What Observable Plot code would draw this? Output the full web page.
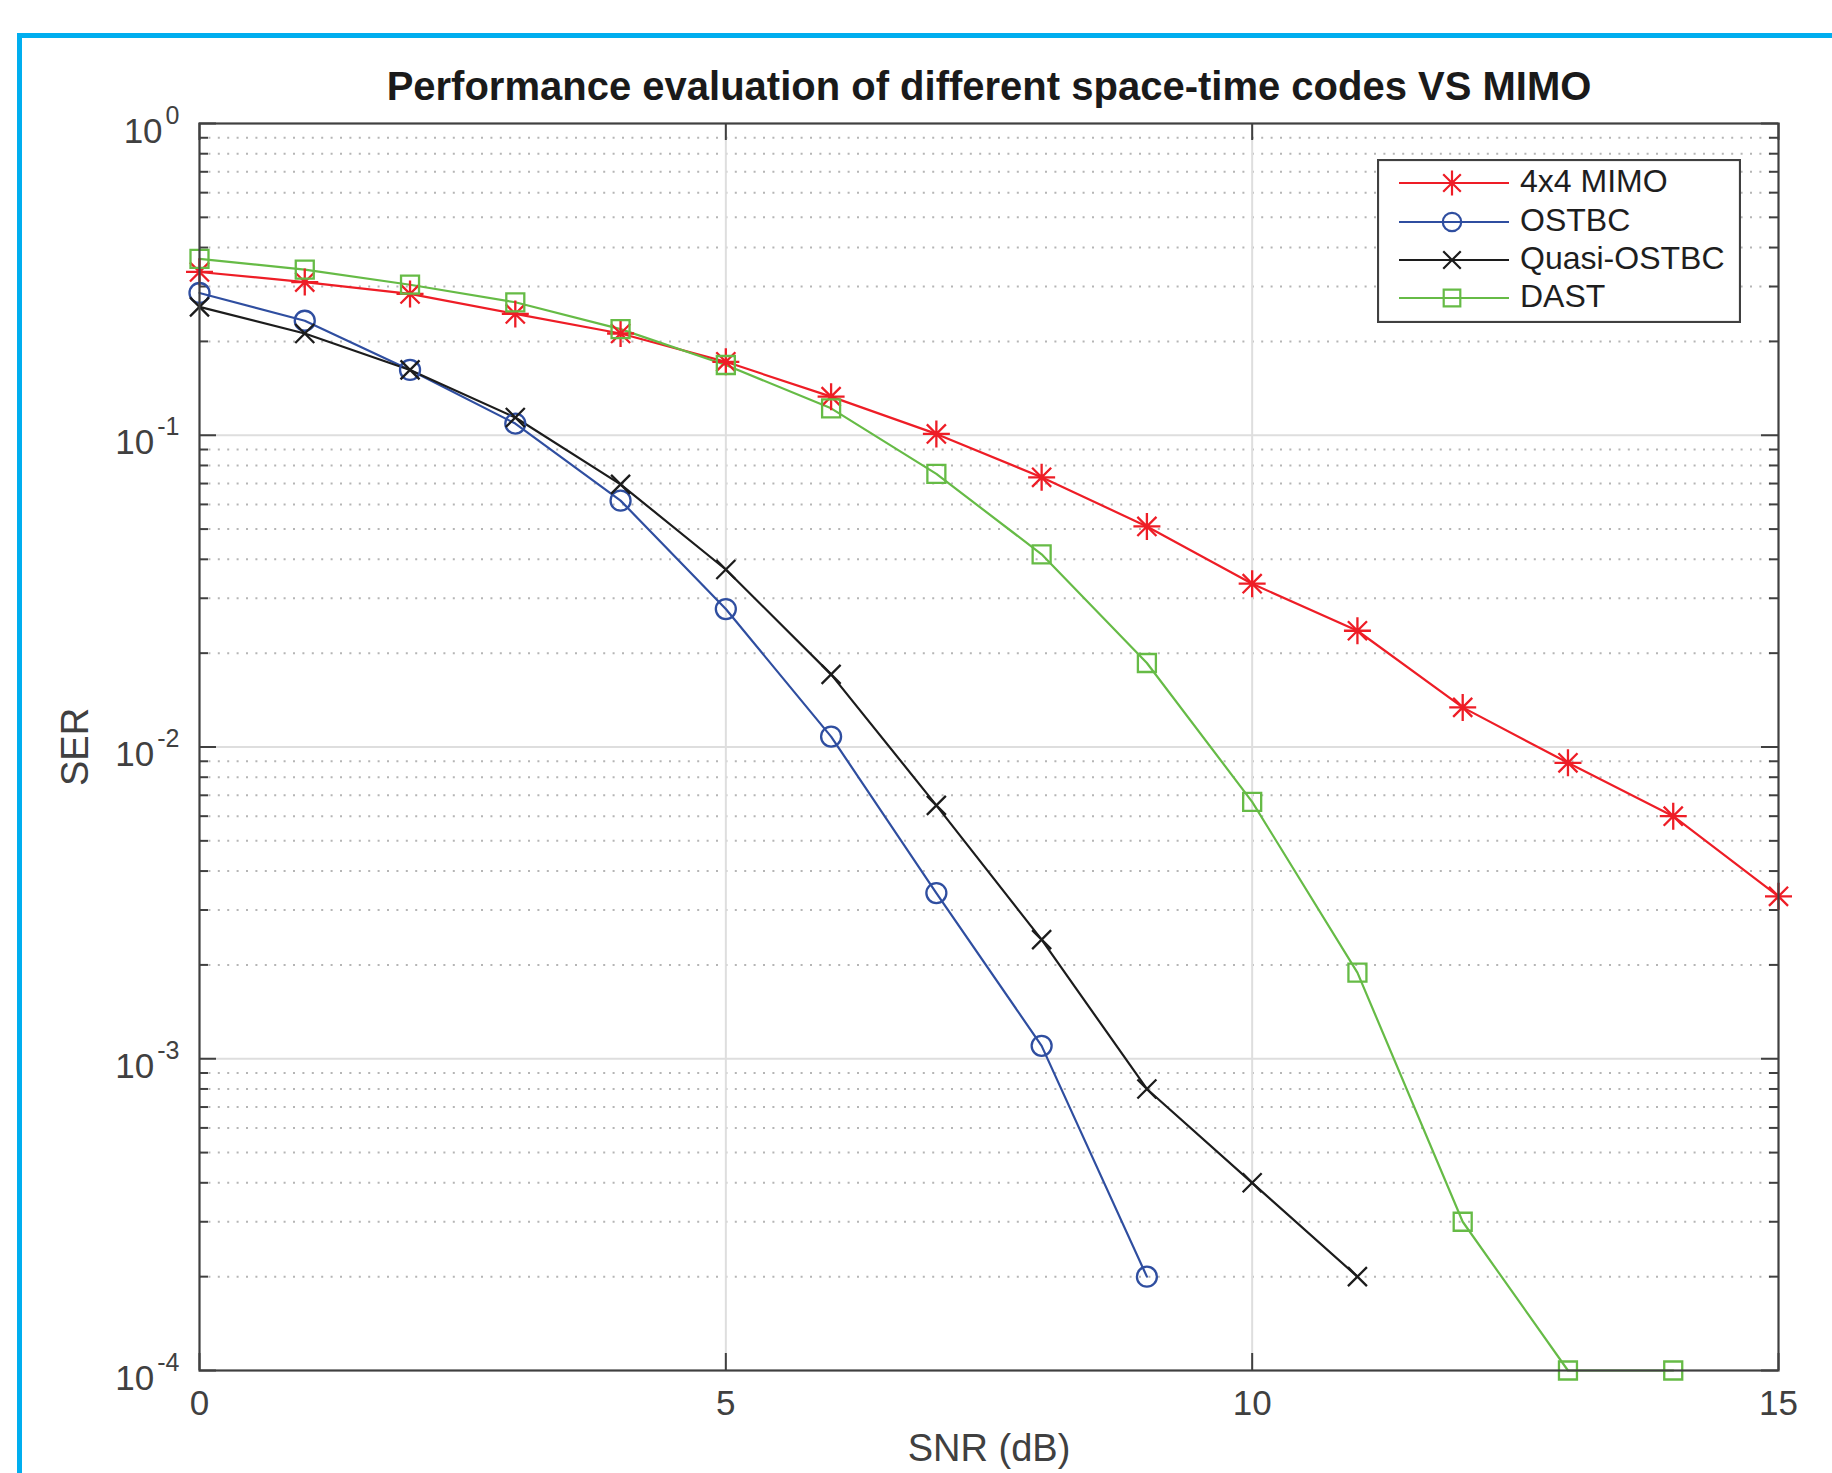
<!DOCTYPE html>
<html>
<head>
<meta charset="utf-8">
<script src="https://cdn.jsdelivr.net/npm/d3@7"></script>
<script src="https://cdn.jsdelivr.net/npm/@observablehq/plot@0.6"></script>
<style>
  html, body { margin: 0; padding: 0; background: #fff; overflow: hidden; }
  #wrap { position: relative; width: 1832px; height: 1473px; overflow: hidden; background: #fff; }
  #chart { position: absolute; left: 0; top: 0; }
  #border { position: absolute; left: 17px; top: 33px; width: 2000px; height: 2000px; border: 5px solid #00AEEF; box-sizing: border-box; pointer-events: none; }
  #legend { position: absolute; left: 1377px; top: 159px; }
</style>
</head>
<body>
<div id="wrap">
  <div id="chart"></div>
  <div id="border"></div>
  <div id="legend"></div>
</div>
<script>
// ---------- data ----------
const snr = [0, 1, 2, 3, 4, 5, 6, 7, 8, 9, 10, 11, 12, 13, 14, 15];
const mimo4x4   = [0.334, 0.31, 0.284, 0.245, 0.212, 0.172, 0.133, 0.101, 0.0733, 0.051, 0.0334, 0.0236, 0.0134, 0.0089, 0.0060, 0.00332];
const ostbc     = [0.286, 0.233, 0.162, 0.109, 0.0617, 0.0277, 0.0108, 0.0034, 0.0011, 0.0002];
const quasiOstbc = [0.258, 0.212, 0.162, 0.114, 0.0696, 0.0371, 0.0171, 0.0065, 0.00241, 0.00080, 0.00040, 0.0002];
const dast      = [0.368, 0.340, 0.304, 0.267, 0.219, 0.168, 0.122, 0.0752, 0.0415, 0.0186, 0.00667, 0.00189, 0.0003, 0.0001, 0.0001];

const seriesNames  = ["4x4 MIMO", "OSTBC", "Quasi-OSTBC", "DAST"];
const seriesValues = [mimo4x4, ostbc, quasiOstbc, dast];
const seriesColors = ["#EE1D26", "#2F4EA0", "#1C1C1C", "#66BB46"];

const xTicks = [0, 5, 10, 15];
const yTicks = [1e-4, 1e-3, 1e-2, 1e-1, 1];
const xGridMajor = [5, 10];
const yGridMajor = [1e-3, 1e-2, 1e-1];

const titleText = "Performance evaluation of different space-time codes VS MIMO";
const xLabel = "SNR (dB)";
const yLabel = "SER";

// ---------- symbols (MATLAB-like markers) ----------
const sym = f => ({ draw(ctx, size) { f(ctx, Math.sqrt(size / Math.PI)); } });
const asterisk8 = sym((c, r) => {
  const d = r * Math.SQRT1_2;
  c.moveTo(-r, 0); c.lineTo(r, 0);
  c.moveTo(0, -r); c.lineTo(0, r);
  c.moveTo(-d, -d); c.lineTo(d, d);
  c.moveTo(-d, d); c.lineTo(d, -d);
});
const circleSym = sym((c, r) => { c.moveTo(r, 0); c.arc(0, 0, r, 0, 2 * Math.PI); c.closePath(); });
const timesSym = sym((c, r) => { c.moveTo(-r, -r); c.lineTo(r, r); c.moveTo(-r, r); c.lineTo(r, -r); });
const squareSym = sym((c, r) => { c.rect(-r, -r, 2 * r, 2 * r); });
const seriesSymbols = [asterisk8, circleSym, timesSym, squareSym];
const seriesR = [13.5, 10, 9.5, 9];

// ---------- table ----------
const rows = [];
seriesNames.forEach((name, i) => {
  seriesValues[i].forEach((v, j) => rows.push({ series: name, snr: snr[j], ser: v }));
});

const minorY = [];
for (let e = -4; e < 0; e++) for (let k = 2; k <= 9; k++) minorY.push(+(k * Math.pow(10, e)).toPrecision(3));

// ---------- layout ----------
const W = 1832, H = 1473;
const mL = 199, mT = 123, mR = 54, mB = 103;
const plotW = W - mL - mR, plotH = H - mT - mB;
const axisColor = "#404040";
const font = "'Liberation Sans', Arial, Helvetica, sans-serif";

const marks = [
  // grid
  Plot.ruleY(minorY, { stroke: "#b5b5b5", strokeWidth: 2, strokeDasharray: "2,7.4" }),
  Plot.ruleY(yGridMajor, { stroke: "#dedede", strokeWidth: 2 }),
  Plot.ruleX(xGridMajor, { stroke: "#dedede", strokeWidth: 2 }),
  // inward ticks
  Plot.tickY(yTicks, { stroke: axisColor, strokeWidth: 2, insetRight: plotW - 17 }),
  Plot.tickY(yTicks, { stroke: axisColor, strokeWidth: 2, insetLeft: plotW - 17 }),
  Plot.tickY(minorY, { stroke: axisColor, strokeWidth: 2, insetRight: plotW - 9 }),
  Plot.tickY(minorY, { stroke: axisColor, strokeWidth: 2, insetLeft: plotW - 9 }),
  Plot.tickX(xTicks, { stroke: axisColor, strokeWidth: 2, insetTop: plotH - 17 }),
  Plot.tickX(xTicks, { stroke: axisColor, strokeWidth: 2, insetBottom: plotH - 17 }),
  // series lines
  Plot.line(rows, { x: "snr", y: "ser", z: "series", stroke: "series", strokeWidth: 2.2 }),
  // markers
  ...seriesNames.map((name, i) =>
    Plot.dot(rows.filter(d => d.series === name), {
      x: "snr", y: "ser", stroke: seriesColors[i], fill: "none",
      symbol: seriesSymbols[i], r: seriesR[i], strokeWidth: 2.3
    })),
  // frame
  Plot.frame({ stroke: axisColor, strokeWidth: 2.2 }),
  // axes
  Plot.axisX({ ticks: xTicks, tickSize: 0, tickPadding: 20, tickFormat: d => String(d), fontSize: 35, label: null, color: axisColor }),
  Plot.axisY({ ticks: yTicks, tickSize: 0, tickPadding: 20, dy: 8,
    tickFormat: d => "10^" + Math.round(Math.log10(d)), fontSize: 35, label: null, color: axisColor }),
  // titles
  Plot.text([titleText], { text: d => d, frameAnchor: "top", lineAnchor: "middle", dy: -36, fontSize: 40, fontWeight: "bold", fill: "#1a1a1a" }),
  Plot.text([xLabel], { text: d => d, frameAnchor: "bottom", lineAnchor: "middle", dy: 78, fontSize: 38, fill: axisColor }),
  Plot.text([yLabel], { text: d => d, frameAnchor: "left", textAnchor: "middle", lineAnchor: "middle", dx: -124, rotate: -90, fontSize: 38, fill: axisColor })
];

const svg = Plot.plot({
  width: W, height: H,
  marginLeft: mL, marginTop: mT, marginRight: mR, marginBottom: mB,
  style: { fontFamily: font, fontSize: "35px", color: axisColor, background: "#fff" },
  x: { domain: [0, 15], type: "linear" },
  y: { type: "log", domain: [1e-4, 1] },
  color: { domain: seriesNames, range: seriesColors },
  marks
});

// superscript exponents on y tick labels
d3.select(svg).selectAll('g[aria-label="y-axis tick label"] text').each(function () {
  const t = d3.select(this);
  const s = t.text();
  const [base, exp] = s.split("^");
  t.text(null);
  t.append("tspan").text(base);
  t.append("tspan").attr("dx", 3).attr("dy", -19).attr("font-size", 25).text(exp);
});

document.getElementById("chart").appendChild(svg);

// ---------- legend ----------
const LW = 364, LH = 164;
const lg = d3.select("#legend").append("svg").attr("width", LW).attr("height", LH)
  .style("font-family", font);
lg.append("rect").attr("x", 1).attr("y", 1).attr("width", LW - 2).attr("height", LH - 2)
  .attr("fill", "#fff").attr("stroke", axisColor).attr("stroke-width", 2.2);
const rowY = [24, 63, 101, 139];
seriesNames.forEach((name, i) => {
  const g = lg.append("g").attr("transform", `translate(0,${rowY[i]})`);
  g.append("line").attr("x1", 22).attr("x2", 132).attr("y1", 0).attr("y2", 0)
    .attr("stroke", seriesColors[i]).attr("stroke-width", 2.2);
  g.append("path").attr("transform", "translate(75,0)")
    .attr("d", d3.symbol(seriesSymbols[i], Math.PI * seriesR[i] * seriesR[i] * 0.85)())
    .attr("fill", "none").attr("stroke", seriesColors[i]).attr("stroke-width", 2.2);
  g.append("text").attr("x", 143).attr("y", 8.5).attr("font-size", 32).attr("fill", "#1e1e1e").text(name);
});
</script>
</body>
</html>
